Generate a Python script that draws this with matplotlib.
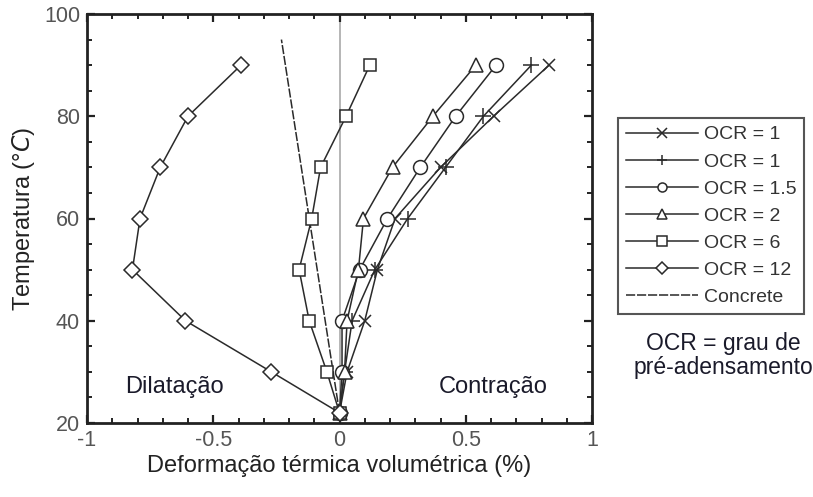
import matplotlib
matplotlib.use("Agg")
import matplotlib.pyplot as plt
from matplotlib.ticker import MultipleLocator

plt.rcParams['font.family'] = ['Liberation Sans', 'DejaVu Sans']

temps = [22, 30, 40, 50, 60, 70, 80, 90]
ocr1_x = [0, 0.03, 0.10, 0.15, 0.22, 0.40, 0.61, 0.83]
ocr1b_x = [0, 0.02, 0.05, 0.14, 0.27, 0.42, 0.57, 0.76]
ocr15_x = [0, 0.01, 0.01, 0.08, 0.19, 0.32, 0.46, 0.62]
ocr2_x = [0, 0.02, 0.03, 0.075, 0.095, 0.21, 0.37, 0.54]
ocr6_x = [0, -0.05, -0.12, -0.16, -0.11, -0.075, 0.026, 0.12]
ocr12_x = [0, -0.27, -0.61, -0.82, -0.79, -0.71, -0.60, -0.39]
concrete_x = [0, -0.23]
concrete_t = [22, 95]

labels = ['OCR = 1', 'OCR = 1', 'OCR = 1.5', 'OCR = 2', 'OCR = 6', 'OCR = 12', 'Concrete']
series = [ocr1_x, ocr1b_x, ocr15_x, ocr2_x, ocr6_x, ocr12_x]
markers = ['x', '+', 'o', '^', 's', 'D']
msizes = [9, 12, 10, 10, 8.5, 8]

lc = '#2a2a2a'
fig = plt.figure(figsize=(8.13, 4.97), dpi=100)
ax = fig.add_axes([87/813, 1-423/497, 505/813, 409/497])

ax.axvline(0, color='#b0b0b0', lw=1.3, zorder=1)

handles = []
for xs, m, ms, lab in zip(series, markers, msizes, labels):
    h, = ax.plot(xs, temps, marker=m, ms=ms, mfc='white' if m not in ('x', '+') else lc,
                 mec=lc, mew=1.1, color=lc, lw=1.1, label=lab, zorder=3)
    handles.append(h)
hc, = ax.plot(concrete_x, concrete_t, color=lc, lw=1.1, ls=(0, (6, 1.2)), label='Concrete', zorder=2)
handles.append(hc)

ax.set_xlim(-1, 1)
ax.set_ylim(20, 100)
ax.xaxis.set_major_locator(MultipleLocator(0.5))
ax.xaxis.set_minor_locator(MultipleLocator(0.1))
ax.yaxis.set_major_locator(MultipleLocator(20))
ax.yaxis.set_minor_locator(MultipleLocator(5))
ax.set_xticks([-1, -0.5, 0, 0.5, 1])
ax.set_xticklabels(['-1', '-0.5', '0', '0.5', '1'])
ax.tick_params(which='both', direction='in', top=True, right=True, colors='#222222',
               labelcolor='#555555', labelsize=15.5)
ax.tick_params(which='major', length=6, width=1.6, pad=5)
ax.tick_params(which='minor', length=3.5, width=1.4)
for s in ax.spines.values():
    s.set_linewidth(2.0)
    s.set_color('#222222')

ax.set_xlabel('Deformação térmica volumétrica (%)', fontsize=17, color='#222222', labelpad=3)
ax.set_ylabel('Temperatura (°$C$)', fontsize=17, color='#222222', labelpad=5)

ax.text(-0.655, 27, 'Dilatação', fontsize=17, color='#1a1a2a', ha='center', va='center')
ax.text(0.61, 27, 'Contração', fontsize=17, color='#1a1a2a', ha='center', va='center')

leg = fig.legend(handles=handles, loc='upper left', bbox_to_anchor=(618/813, 1-118/497),
                 bbox_transform=fig.transFigure, borderaxespad=0, fontsize=14,
                 handlelength=3.7, handletextpad=0.3, labelspacing=0.49, borderpad=0.4,
                 fancybox=False, edgecolor='#555555', framealpha=1)
leg.get_frame().set_linewidth(1.5)
for h in leg.get_lines():
    h.set_markersize(6.5)
for t in leg.get_texts():
    t.set_color('#333333')

fig.text(723/813, 1-355.5/497, 'OCR = grau de\npré-adensamento', ha='center', va='center',
         fontsize=16.5, color='#1a1a2a', linespacing=1.05)

fig.savefig('out.png', dpi=100)
